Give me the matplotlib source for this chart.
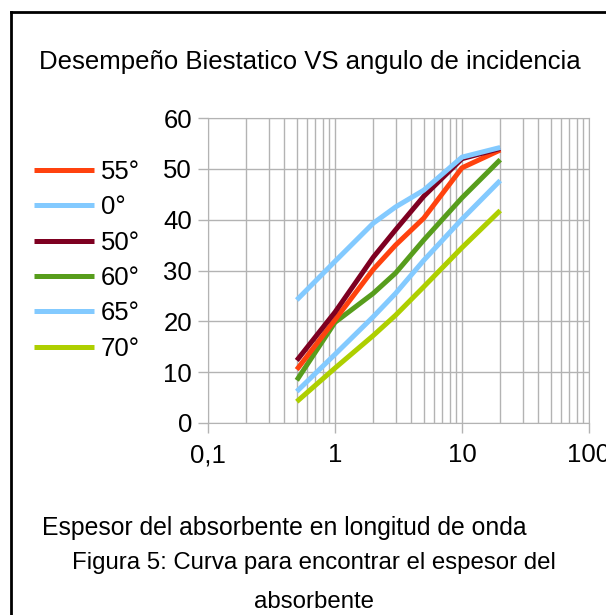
import numpy as np
import matplotlib.pyplot as plt
from matplotlib.lines import Line2D
from matplotlib.ticker import LogLocator, FixedLocator, FuncFormatter

plt.rcParams['font.family'] = ['Liberation Sans', 'DejaVu Sans']

# espesor (longitudes de onda)
x = [0.5, 1, 2, 3, 5, 10, 20]

# angulos y curvas
labels = ['55°', '0°', '50°', '60°', '65°', '70°']
colores = ['#ff420e', '#83caff', '#7e0021', '#579d1c', '#83caff', '#aecf00']
y55 = [10.5, 20.3, 30.2, 35.0, 40.3, 50.2, 53.7]
y0 = [24.2, 31.8, 39.3, 42.5, 45.8, 52.3, 54.2]
y50 = [12.3, 21.8, 32.6, 38.0, 44.6, 52.0, 54.0]
y60 = [8.4, 19.8, 25.5, 29.5, 36.0, 44.3, 51.8]
y65 = [6.2, 13.5, 20.9, 25.5, 32.0, 40.1, 47.7]
y70 = [4.2, 10.8, 17.2, 21.2, 26.8, 34.5, 41.8]
series = [y55, y0, y50, y60, y65, y70]

fig = plt.figure(figsize=(6.06, 6.15), dpi=100)
ax = fig.add_axes([208/606, 1-423/615, (589-208)/606, (423-118)/615])

orden = [1, 2, 0, 3, 4, 5]
for i, (lab, c, y) in enumerate(zip(labels, colores, series)):
    ax.plot(x, y, color=c, lw=3.6, label=lab, solid_capstyle='butt',
            zorder=10 - orden[i] if i != 1 else 12)

ax.set_xscale('log')
ax.set_xlim(0.1, 100)
ax.set_ylim(0, 60)
ax.set_yticks(range(0, 61, 10))
ax.xaxis.set_major_locator(FixedLocator([0.1, 1, 10, 100]))
ax.xaxis.set_minor_locator(LogLocator(base=10, subs=np.arange(2, 10)))
ax.xaxis.set_major_formatter(FuncFormatter(lambda v, p: ('%g' % v).replace('.', ',')))
ax.xaxis.set_minor_formatter(FuncFormatter(lambda v, p: ''))

ax.grid(True, which='major', color='#b3b3b3', lw=1)
ax.grid(True, which='minor', axis='x', color='#b3b3b3', lw=1)
ax.set_axisbelow(True)
for s in ax.spines.values():
    s.set_color('#b3b3b3')
ax.tick_params(axis='both', which='major', color='#b3b3b3', length=7.5, width=1,
               labelsize=18.5)
ax.tick_params(axis='y', pad=4)
ax.tick_params(axis='x', pad=7)
ax.tick_params(axis='x', which='minor', length=0)

fig.text(310/606, 1-62/615, 'Desempeño Biestatico VS angulo de incidencia',
         ha='center', va='center', fontsize=18.5)
fig.text(42/606, 1-528/615, 'Espesor del absorbente en longitud de onda',
         ha='left', va='center', fontsize=17.8)
fig.text(314/606, 1-563/615, 'Figura 5: Curva para encontrar el espesor del',
         ha='center', va='center', fontsize=17.3)
fig.text(314/606, 1-602/615, 'absorbente', ha='center', va='center', fontsize=17.3)

h, l = ax.get_legend_handles_labels()
leg = fig.legend(h, l, loc='upper left', bbox_to_anchor=(34/606, 1-160/615),
                 frameon=False, fontsize=18.5, handlelength=2.33, handletextpad=0.28,
                 labelspacing=0.44, borderaxespad=0, borderpad=0)

# marco
fig.add_artist(Line2D([11/606, 11/606], [0, 1-12/615], color='black', lw=2))
fig.add_artist(Line2D([11/606, 1], [1-12/615, 1-12/615], color='black', lw=2))

fig.savefig('out.png', dpi=100)
